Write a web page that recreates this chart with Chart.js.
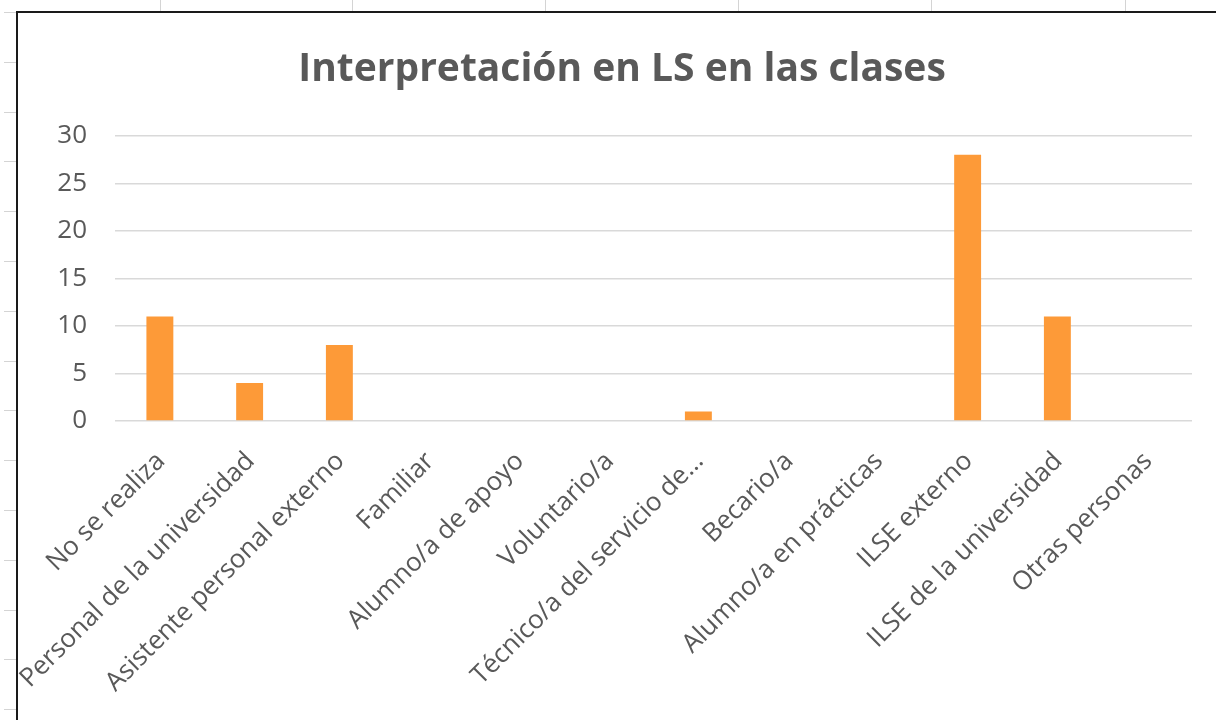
<!DOCTYPE html>
<html>
<head>
<meta charset="utf-8">
<script src="https://cdn.jsdelivr.net/npm/chart.js@4.4.1/dist/chart.umd.min.js"></script>
<style>
  html, body { margin: 0; padding: 0; background: #fff; width: 1216px; height: 720px; overflow: hidden; position: relative; }
  .vl { position: absolute; top: 0; width: 1px; height: 12px; background: #d4d4d4; }
  .hl { position: absolute; left: 4px; width: 12px; height: 1px; background: #d4d4d4; }
  #box { position: absolute; left: 16px; top: 11px; width: 1220px; height: 709px; border-top: 2px solid #1a1a1a; border-left: 2px solid #1a1a1a; background: #fff; overflow: hidden; }
  #c { display: block; }
</style>
</head>
<body>
<div id="sheet"></div>
<div id="box"><canvas id="c" width="1208" height="707"></canvas></div>
<script>
const categories = [
  "No se realiza",
  "Personal de la universidad",
  "Asistente personal externo",
  "Familiar",
  "Alumno/a de apoyo",
  "Voluntario/a",
  "Técnico/a del servicio de…",
  "Becario/a",
  "Alumno/a en prácticas",
  "ILSE externo",
  "ILSE de la universidad",
  "Otras personas"
];
const values = [11, 4, 8, 0, 0, 0, 1, 0, 0, 28, 11, 0];
const yTicks = [0, 5, 10, 15, 20, 25, 30];
const chartTitle = "Interpretación en LS en las clases";

// spreadsheet background lines (decoration only)
const sheet = document.getElementById('sheet');
[160, 352, 545, 738, 931, 1125].forEach(x => {
  const d = document.createElement('div'); d.className = 'vl'; d.style.left = x + 'px'; sheet.appendChild(d);
});
for (let y = 12; y < 720; y += 49.8) {
  const d = document.createElement('div'); d.className = 'hl'; d.style.top = Math.round(y) + 'px'; sheet.appendChild(d);
}

const gray = '#595959';
new Chart(document.getElementById('c'), {
  type: 'bar',
  data: {
    labels: categories,
    datasets: [{
      data: values,
      backgroundColor: '#FD9A38',
      borderWidth: 0,
      categoryPercentage: 1,
      barPercentage: 0.30
    }]
  },
  options: {
    responsive: false,
    animation: false,
    layout: { padding: { left: 0, right: 0, top: 0, bottom: 0 } },
    plugins: {
      legend: { display: false },
      tooltip: { enabled: false },
      title: {
        display: true,
        text: chartTitle,
        color: gray,
        font: { family: 'Open Sans', size: 39, weight: 'bold', lineHeight: 1.2 },
        padding: { top: 33, bottom: 43 }
      }
    },
    scales: {
      x: {
        grid: { display: false },
        border: { display: false },
        ticks: {
          autoSkip: false,
          minRotation: 45,
          maxRotation: 45,
          color: gray,
          padding: 17,
          labelOffset: 1,
          font: { family: 'Open Sans', size: 26 }
        },
        afterFit: s => { s.height = 299; s.paddingLeft = 0; s.paddingRight = 34; }
      },
      y: {
        min: 0,
        max: 30,
        afterBuildTicks: s => { s.ticks = yTicks.map(v => ({ value: v })); },
        grid: { color: '#d9d9d9', lineWidth: 1.5, drawTicks: false },
        border: { display: false },
        ticks: {
          color: gray,
          padding: 28,
          font: { family: 'Open Sans', size: 26 }
        },
        afterFit: s => { s.width = 97; }
      }
    }
  }
});
</script>
</body>
</html>
